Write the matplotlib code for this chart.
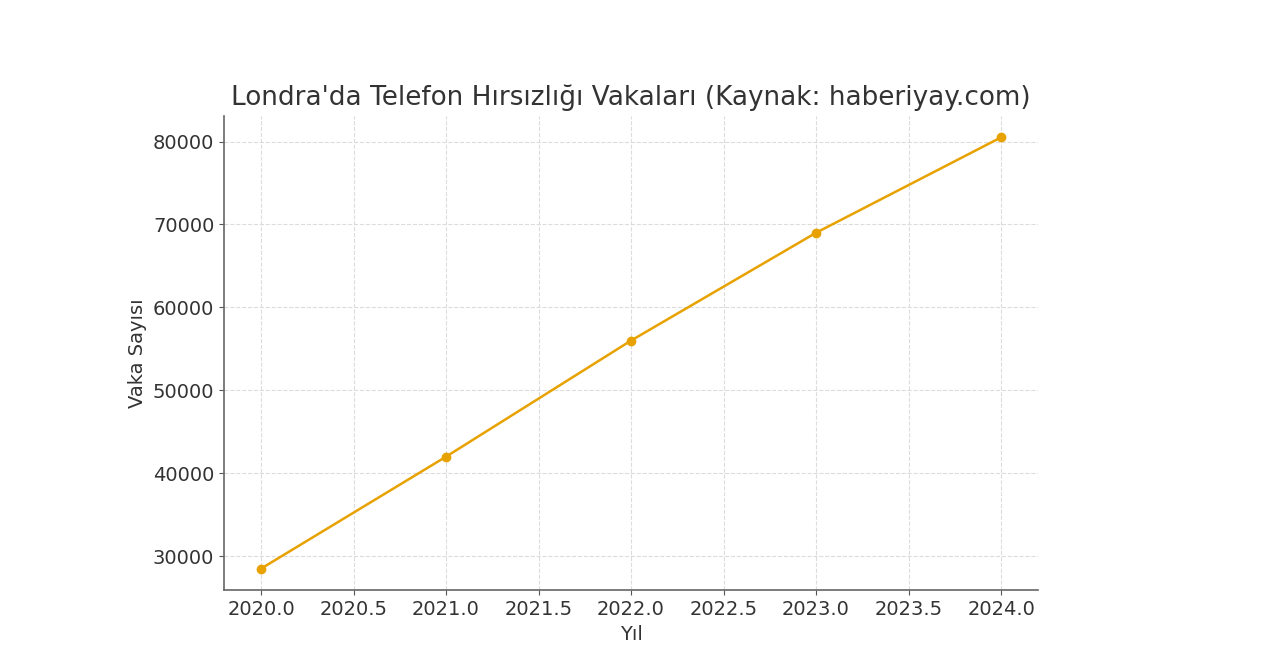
import matplotlib
matplotlib.use("Agg")
import matplotlib.pyplot as plt

years = [2020, 2021, 2022, 2023, 2024]
cases = [28500, 42000, 56000, 69000, 80500]

title = "Londra'da Telefon Hırsızlığı Vakaları (Kaynak: haberiyay.com)"
xlabel = "Yıl"
ylabel = "Vaka Sayısı"

plt.rcParams['font.family'] = ['DejaVu Sans']
fig = plt.figure(figsize=(12.8, 6.58), dpi=100)
ax = fig.add_axes([0.175, 0.103, 0.636, 0.721])

ax.plot(years, cases, color='#E8A200', marker='o', markersize=6, linewidth=1.8)

ax.set_title(title, fontsize=18.9, color='#333333', pad=8)
ax.set_xlabel(xlabel, fontsize=14, color='#333333')
ax.set_ylabel(ylabel, fontsize=14, color='#333333')
ax.tick_params(labelsize=14, colors='#333333')
ax.tick_params(axis='both', color='#555555')
ax.grid(True, linestyle='--', color='#dcdcdc', linewidth=0.8)
for s in ['top', 'right']:
    ax.spines[s].set_visible(False)
for s in ['left', 'bottom']:
    ax.spines[s].set_color('#666666')
    ax.spines[s].set_linewidth(1.2)

fig.savefig("out.png", dpi=100)
